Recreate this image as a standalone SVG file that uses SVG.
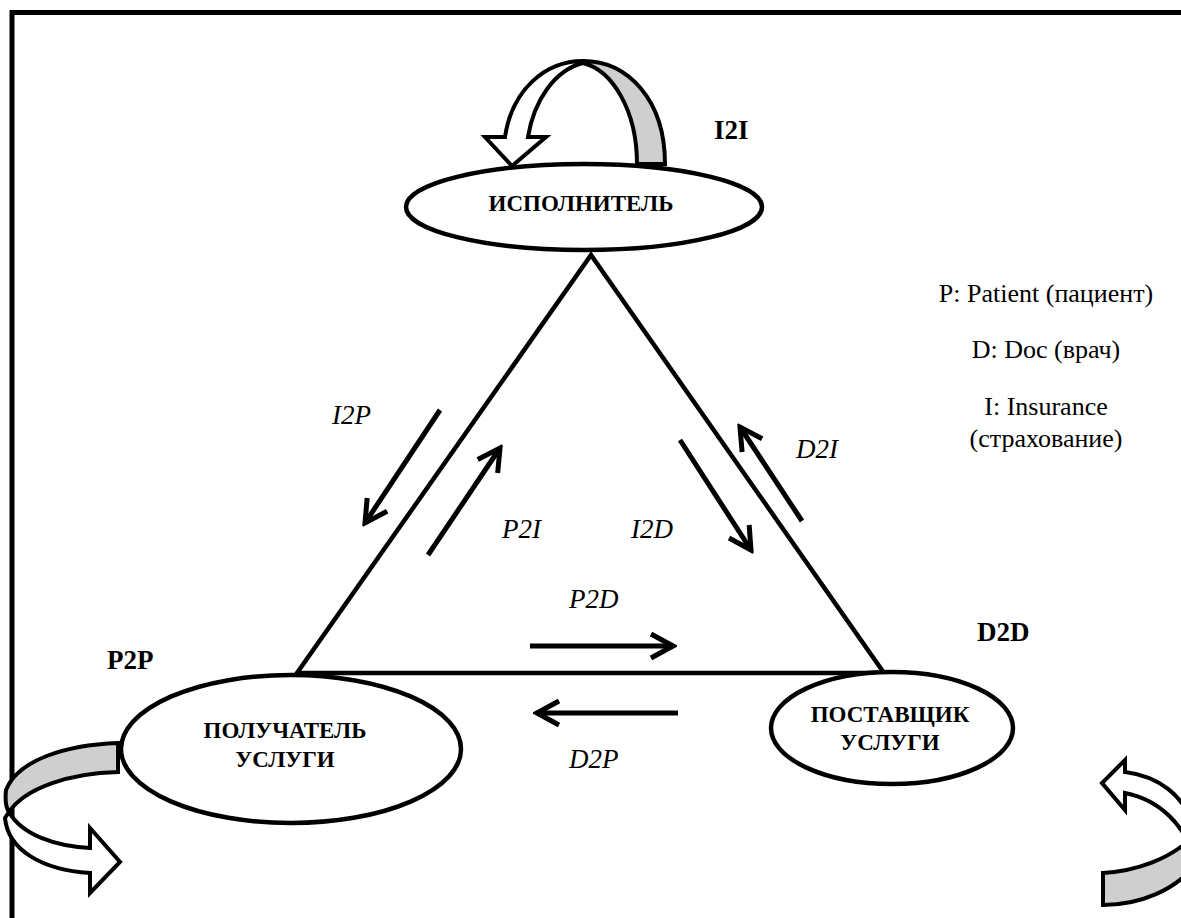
<svg xmlns="http://www.w3.org/2000/svg" width="1181" height="918" viewBox="0 0 1181 918">
<style>
.node{fill:#fff;stroke:#000;stroke-width:4.5}
.ntxt{font-family:"Liberation Serif","Times New Roman",serif;font-weight:bold;font-size:23px;text-anchor:middle;fill:#000}
.btxt{font-family:"Liberation Serif","Times New Roman",serif;font-weight:bold;font-size:27px;fill:#000}
.itxt{font-family:"Liberation Serif","Times New Roman",serif;font-style:italic;font-size:27px;fill:#000}
.leg{font-family:"Liberation Serif","DejaVu Serif",serif;font-weight:400;font-style:normal;font-size:26px;text-anchor:middle;fill:#000}
.edge{stroke:#000;stroke-width:5;fill:none;marker-end:url(#chev)}
.tri{stroke:#000;stroke-width:4.5;fill:none;stroke-linejoin:miter}
.gray{fill:#cfcfcf;stroke:#000;stroke-width:4;stroke-linejoin:miter}
.white{fill:#fff;stroke:#000;stroke-width:4;stroke-linejoin:miter}
</style>
<defs>
<marker id="chev" viewBox="-30 -16 34 32" markerWidth="34" markerHeight="32" refX="0" refY="0" orient="auto" markerUnits="userSpaceOnUse">
<path d="M-22,-12 L0,0 L-22,12" fill="none" stroke="#000" stroke-width="5" stroke-linejoin="miter"/>
</marker>
</defs>
<rect x="0" y="0" width="1181" height="918" fill="#fff"/>
<path d="M12,918 L12,12.5 L1190,12.5" fill="none" stroke="#000" stroke-width="5"/>

<g id="triangle">
<polygon class="tri" points="591,255 297,673 884,673"/>
</g>

<g id="connectors">
<line class="edge" x1="440" y1="410" x2="365" y2="523"/>
<line class="edge" x1="428" y1="555" x2="500" y2="448"/>
<line class="edge" x1="680" y1="440" x2="751" y2="550"/>
<line class="edge" x1="802" y1="521" x2="740" y2="427"/>
<line class="edge" x1="530" y1="646" x2="673" y2="646"/>
<line class="edge" x1="678" y1="713" x2="537" y2="713"/>
</g>

<g id="labels">
<text class="itxt" x="332" y="424">I2P</text>
<text class="itxt" x="502" y="538">P2I</text>
<text class="itxt" x="631" y="538">I2D</text>
<text class="itxt" x="796" y="458">D2I</text>
<text class="itxt" x="569" y="608">P2D</text>
<text class="itxt" x="569" y="768">D2P</text>
<text class="btxt" x="714" y="139">I2I</text>
<text class="btxt" x="107" y="669">P2P</text>
<text class="btxt" x="977" y="641">D2D</text>
</g>

<g id="legend">
<text class="leg" x="1046" y="302">P: Patient (пациент)</text>
<text class="leg" x="1046" y="358">D: Doc (врач)</text>
<text class="leg" x="1046" y="415">I: Insurance</text>
<text class="leg" x="1046" y="447">(страхование)</text>
</g>

<g id="node-I">
<ellipse class="node" cx="584" cy="207" rx="178" ry="43"/>
<text class="ntxt" x="581" y="211">ИСПОЛНИТЕЛЬ</text>
</g>

<g id="node-P">
<ellipse class="node" cx="291" cy="749" rx="170" ry="74"/>
<text class="ntxt" x="285" y="738">ПОЛУЧАТЕЛЬ</text>
<text class="ntxt" x="285" y="767">УСЛУГИ</text>
</g>

<g id="node-D">
<ellipse class="node" cx="892" cy="728" rx="121" ry="56"/>
<text class="ntxt" x="890" y="722">ПОСТАВЩИК</text>
<text class="ntxt" x="890" y="750">УСЛУГИ</text>
</g>

<g id="loop-I2I">
<path class="gray" d="M583,61 C628,61 665,100 665,164 L637,164 C637,110 612,70 583,63 Z"/>
<path class="white" d="M583,61 C545,61 512,90 505,137 L485,137 L512,166 L546,137 L528,137 C534,100 555,70 583,63 Z"/>
</g>

<g id="loop-P2P">
<path class="gray" d="M118,743 C65,745 18,760 6,790 C5,800 6,808 9,812 C25,788 70,773 118,772 Z"/>
<path class="white" d="M9,812 C22,835 55,846 90,848 L90,828 L120,862 L90,893 L90,873 C42,870 8,850 5,818 Z"/>
</g>

<g id="loop-D2D">
<path class="white" d="M1125,772 C1158,776 1185,795 1195,830 L1195,860 C1185,825 1160,800 1125,793 L1125,810 L1102,783 L1125,760 Z"/>
<path class="gray" d="M1103,873 C1135,871 1170,860 1195,835 L1195,865 C1175,890 1140,905 1103,905 Z"/>
</g>
</svg>
